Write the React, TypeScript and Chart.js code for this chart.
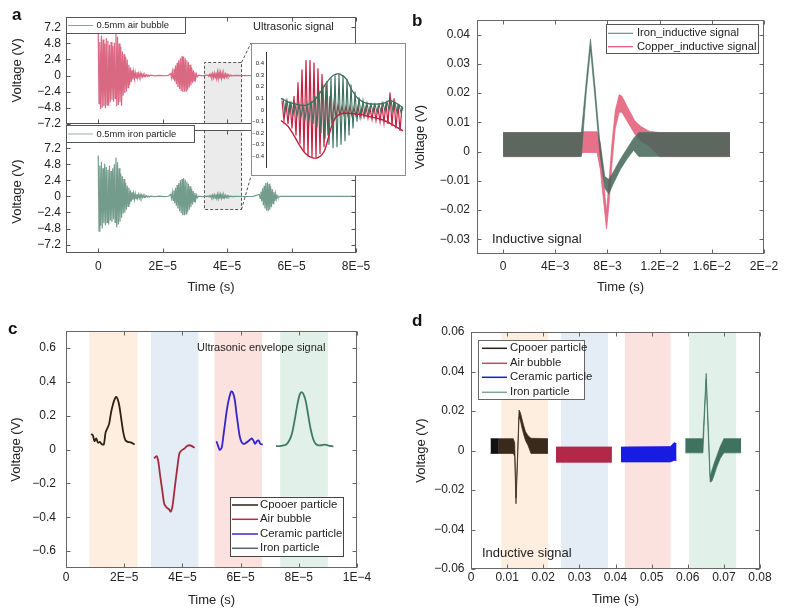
import React, { useEffect, useRef } from 'react';
import { Chart, registerables } from 'chart.js';

Chart.register(...registerables);

const FONT = '"Liberation Sans", Arial, Helvetica, sans-serif';
Chart.defaults.font.family = FONT;
Chart.defaults.color = '#222';

// ================= DATA =================
// ---- Panel a (time in units of 1E-5 s) ----
const A_X_TICKS = [0, 2, 4, 6, 8];
const A_X_LABELS = ['0', '2E−5', '4E−5', '6E−5', '8E−5'];
const A_Y_TICKS = [-7.2, -4.8, -2.4, 0, 2.4, 4.8, 7.2];
const A_Y_LABELS = ['−7.2', '−4.8', '−2.4', '0', '2.4', '4.8', '7.2'];
const A_STEP = 0.025; // sample spacing of the oscillation peaks

const AIR_BURST1 = [6.6, -4.2, 5.0, -5.0, 6.0, -4.8, 5.4, -4.6, 4.8, -4.9, 5.6, -4.4, 5.2, -4.5, 4.6, -4.0, 5.0, -3.6, 4.4, -3.9, 4.9, -3.4, 6.4, -4.6, 5.8, -4.4, 4.8, -4.0, 4.3, -4.5, 3.6, -3.0, 3.2, -2.6, 2.8, -2.4, 2.4, -1.8, 1.6, -1.4, 1.2, -1.0, 0.8, -0.6];
const AIR_RIPPLE = [0.6, -0.5, 0.45, -0.4, 0.5, -0.35, 0.3, -0.3, 0.35, -0.25, 0.25, -0.2, 0.2, -0.18, 0.15, -0.12, 0.12, -0.1, 0.08, -0.06];
const AIR_QUIET_T = [1.62, 1.75, 1.9, 2.05, 2.18];
const AIR_QUIET_V = [0.06, -0.04, 0.03, -0.03, 0.02];
const AIR_BURST2 = [0.3, -0.3, 0.6, -0.5, 1.0, -0.9, 1.5, -1.3, 1.9, -1.7, 2.3, -2.0, 2.6, -2.3, 2.9, -2.4, 2.8, -2.4, 2.6, -2.3, 2.3, -2.1, 2.0, -1.8, 1.6, -1.5, 1.2, -1.1, 0.8, -0.8, 0.5, -0.5, 0.2, -0.2];
const AIR_GAP_T = [3.12, 3.22, 3.32];
const AIR_GAP_V = [0.05, -0.04, 0.03];
const AIR_BURST3 = [0.08, -0.08, 0.15, -0.15, 0.22, -0.22, 0.3, -0.3, 0.38, -0.36, 0.45, -0.42, 0.5, -0.46, 0.48, -0.46, 0.44, -0.42, 0.38, -0.36, 0.3, -0.28, 0.24, -0.22, 0.18, -0.16, 0.12, -0.1, 0.07, -0.06, 0.03, -0.03];
const AIR_TAIL_T = [4.25, 4.5, 5.0, 6.0, 7.0, 8.0];
const AIR_TAIL_V = [0.02, -0.01, 0.01, 0, 0, 0];

const IRON_BURST1 = [6.1, -5.2, 4.6, -4.4, 5.2, -4.8, 4.2, -4.0, 4.9, -4.3, 4.4, -3.9, 4.0, -4.2, 4.6, -3.6, 3.8, -3.8, 4.2, -3.4, 4.8, -3.9, 5.8, -4.6, 5.1, -4.2, 4.2, -3.8, 3.4, -3.2, 3.0, -2.6, 2.6, -2.4, 2.0, -2.0, 1.6, -1.5, 1.3, -1.2, 0.9, -0.8, 0.6, -0.5];
const IRON_RIPPLE = [0.5, -0.45, 0.4, -0.35, 0.35, -0.3, 0.3, -0.25, 0.28, -0.22, 0.22, -0.18, 0.18, -0.15, 0.12, -0.1, 0.1, -0.08, 0.06, -0.05];
const IRON_QUIET_T = [1.62, 1.75, 1.9, 2.05, 2.18];
const IRON_QUIET_V = [0.05, -0.03, 0.03, -0.02, 0.02];
const IRON_BURST2 = [0.3, -0.3, 0.6, -0.6, 0.9, -1.0, 1.3, -1.4, 1.7, -1.8, 2.0, -2.2, 2.4, -2.5, 2.6, -2.8, 2.7, -2.8, 2.5, -2.6, 2.2, -2.3, 1.9, -2.0, 1.5, -1.6, 1.1, -1.2, 0.8, -0.8, 0.5, -0.5, 0.2, -0.2];
const IRON_GAP_T = [3.12, 3.22, 3.32];
const IRON_GAP_V = [0.04, -0.03, 0.02];
const IRON_BURST3 = [0.05, -0.05, 0.1, -0.1, 0.15, -0.15, 0.2, -0.2, 0.26, -0.25, 0.31, -0.3, 0.34, -0.33, 0.33, -0.32, 0.3, -0.29, 0.26, -0.25, 0.21, -0.2, 0.16, -0.15, 0.12, -0.11, 0.08, -0.07, 0.05, -0.04, 0.02, -0.02];
const IRON_MID_T = [4.25, 4.5, 4.8];
const IRON_MID_V = [0.02, -0.01, 0.01];
const IRON_BURST4 = [0.3, -0.3, 0.7, -0.7, 1.2, -1.3, 1.6, -1.8, 2.0, -2.1, 2.1, -2.2, 1.9, -2.0, 1.5, -1.6, 1.1, -1.1, 0.7, -0.7, 0.4, -0.4, 0.15, -0.15];
const IRON_TAIL_T = [5.65, 6.2, 7.0, 8.0];
const IRON_TAIL_V = [0.01, 0, 0, 0];

// zoomed window (data units of panel a)
const ZOOM_X = [3.27, 4.42];
const ZOOM_Y_TOP = 2.0;
const ZOOM_Y_BOTTOM = -1.86;

// ---- Inset (arbitrary sample axis) ----
const INSET_Y_TICKS = [-0.4, -0.3, -0.2, -0.1, 0, 0.1, 0.2, 0.3, 0.4];
const INSET_Y_LABELS = ['−0.4', '−0.3', '−0.2', '−0.1', '0', '0.1', '0.2', '0.3', '0.4'];
const INSET_STEP = 2;
const INSET_RED = [0.08, -0.09, 0.06, -0.12, 0.07, -0.16, 0.12, -0.22, 0.24, -0.29, 0.35, -0.36, 0.43, -0.40, 0.43, -0.41, 0.41, -0.41, 0.36, -0.38, 0.31, -0.32, 0.22, -0.22, 0.12, -0.12, 0.06, -0.06, 0.04, -0.04, 0.03, -0.04, 0.03, -0.05, 0.03, -0.05, 0.02, -0.05, 0.03, -0.06, 0.02, -0.06, 0.03, -0.07, 0.02, -0.08, 0.03, -0.09, 0.02, -0.1, 0.04, -0.11, 0.06, -0.12, 0.15, -0.14, 0.1, -0.16, 0.05, -0.18, 0.03];
const INSET_GREEN = [0.1, -0.02, 0.08, -0.03, 0.06, -0.04, 0.05, -0.05, 0.05, -0.06, 0.04, -0.08, 0.05, -0.1, 0.08, -0.12, 0.12, -0.15, 0.17, -0.2, 0.22, -0.25, 0.25, -0.3, 0.28, -0.33, 0.3, -0.32, 0.31, -0.3, 0.3, -0.27, 0.27, -0.22, 0.22, -0.16, 0.16, -0.1, 0.11, -0.06, 0.08, -0.04, 0.06, -0.03, 0.05, -0.02, 0.05, -0.02, 0.05, -0.02, 0.06, -0.01, 0.07, 0.0, 0.08, -0.01, 0.06, -0.02, 0.04, -0.02, 0.02];
const INSET_RED_ENV_X = [15, 22, 28, 34, 40, 46, 52, 58, 62, 66, 70, 76, 85, 95, 105, 115, 125, 137];
const INSET_RED_ENV_Y = [-0.09, -0.14, -0.22, -0.31, -0.38, -0.41, -0.41, -0.36, -0.25, -0.13, -0.06, -0.03, -0.03, -0.04, -0.06, -0.08, -0.12, -0.18];
const INSET_GREEN_ENV_X = [15, 22, 30, 40, 48, 55, 60, 66, 70, 74, 80, 86, 92, 100, 110, 118, 124, 130, 137];
const INSET_GREEN_ENV_Y = [0.1, 0.07, 0.05, 0.04, 0.08, 0.16, 0.23, 0.29, 0.31, 0.31, 0.27, 0.17, 0.1, 0.06, 0.05, 0.06, 0.08, 0.06, 0.02];

// ---- Panel b (time in units of 1E-3 s) ----
const B_X_TICKS = [0, 4, 8, 12, 16, 20];
const B_X_LABELS = ['0', '4E−3', '8E−3', '1.2E−2', '1.6E−2', '2E−2'];
const B_Y_TICKS = [-0.03, -0.02, -0.01, 0, 0.01, 0.02, 0.03, 0.04];
const B_Y_LABELS = ['−0.03', '−0.02', '−0.01', '0', '0.01', '0.02', '0.03', '0.04'];
const B_IRON_T = [0, 6.0, 6.35, 6.7, 7.05, 7.4, 7.8, 8.1, 8.5, 9.0, 9.5, 10.0, 10.4, 17.4];
const B_IRON_UP = [0.0065, 0.0065, 0.023, 0.0385, 0.022, 0.004, -0.0085, -0.0095, -0.0065, -0.0025, 0.001, 0.0045, 0.0065, 0.0065];
const B_IRON_LO = [-0.0017, -0.0017, 0.019, 0.035, 0.018, 0.0, -0.0125, -0.0145, -0.0105, -0.006, -0.0025, 0.0005, -0.0017, -0.0017];
const B_COPPER_T = [0, 5.9, 6.1, 7.2, 7.45, 7.7, 7.93, 8.1, 8.35, 8.6, 8.9, 9.1, 9.5, 10.1, 10.6, 11.2, 12.0, 17.4];
const B_COPPER_UP = [0.0065, 0.0065, 0.0068, 0.0068, 0.003, -0.010, -0.0205, -0.011, 0.003, 0.014, 0.0195, 0.019, 0.0155, 0.0105, 0.0085, 0.007, 0.0065, 0.0065];
const B_COPPER_LO = [-0.0017, -0.0017, -0.0003, -0.0003, -0.006, -0.017, -0.0265, -0.019, -0.004, 0.008, 0.0135, 0.0135, 0.0105, 0.006, 0.0035, 0.002, -0.0017, -0.0017];

// ---- Panel c (time in units of 1E-5 s) ----
const C_X_TICKS = [0, 2, 4, 6, 8, 10];
const C_X_LABELS = ['0', '2E−5', '4E−5', '6E−5', '8E−5', '1E−4'];
const C_Y_TICKS = [-0.6, -0.4, -0.2, 0, 0.2, 0.4, 0.6];
const C_Y_LABELS = ['−0.6', '−0.4', '−0.2', '0', '0.2', '0.4', '0.6'];
const C_BANDS = [[0.8, 2.46], [2.92, 4.55], [5.1, 6.74], [7.36, 9.0]];
const C_COPPER_T = [0.86, 0.92, 0.98, 1.04, 1.10, 1.16, 1.24, 1.30, 1.36, 1.42, 1.48, 1.55, 1.62, 1.68, 1.72, 1.77, 1.83, 1.90, 1.97, 2.04, 2.12, 2.22, 2.36];
const C_COPPER_V = [0.09, 0.085, 0.05, 0.065, 0.04, 0.045, 0.03, 0.03, 0.1, 0.125, 0.15, 0.22, 0.27, 0.3, 0.31, 0.3, 0.26, 0.18, 0.1, 0.055, 0.045, 0.042, 0.03];
const C_AIR_T = [3.03, 3.11, 3.17, 3.23, 3.31, 3.38, 3.46, 3.54, 3.60, 3.66, 3.71, 3.78, 3.84, 3.90, 3.98, 4.06, 4.16, 4.25, 4.33, 4.42];
const C_AIR_V = [-0.053, -0.039, -0.069, -0.147, -0.245, -0.324, -0.343, -0.353, -0.367, -0.333, -0.265, -0.167, -0.088, -0.020, -0.004, 0.004, 0.020, 0.025, 0.020, 0.010];
const C_CER_T = [5.17, 5.23, 5.28, 5.35, 5.40, 5.46, 5.52, 5.58, 5.64, 5.68, 5.74, 5.80, 5.85, 5.91, 5.97, 6.03, 6.10, 6.18, 6.26, 6.33, 6.39, 6.45, 6.50, 6.56, 6.62, 6.68, 6.76];
const C_CER_V = [0.049, 0.020, -0.002, 0.010, 0.069, 0.147, 0.225, 0.284, 0.327, 0.343, 0.333, 0.294, 0.225, 0.147, 0.078, 0.045, 0.033, 0.039, 0.049, 0.059, 0.065, 0.049, 0.033, 0.049, 0.053, 0.033, 0.029];
const C_IRON_T = [7.22, 7.40, 7.57, 7.69, 7.77, 7.86, 7.95, 8.03, 8.09, 8.16, 8.24, 8.32, 8.41, 8.50, 8.58, 8.67, 8.78, 8.90, 9.02, 9.19];
const C_IRON_V = [0.020, 0.022, 0.029, 0.059, 0.098, 0.176, 0.265, 0.324, 0.339, 0.327, 0.284, 0.206, 0.118, 0.059, 0.033, 0.025, 0.025, 0.029, 0.023, 0.018];

// ---- Panel d (time in s) ----
const D_X_TICKS = [0, 0.01, 0.02, 0.03, 0.04, 0.05, 0.06, 0.07, 0.08];
const D_X_LABELS = ['0', '0.01', '0.02', '0.03', '0.04', '0.05', '0.06', '0.07', '0.08'];
const D_Y_TICKS = [-0.06, -0.04, -0.02, 0, 0.02, 0.04, 0.06];
const D_Y_LABELS = ['−0.06', '−0.04', '−0.02', '0', '0.02', '0.04', '0.06'];
const D_BANDS = [[0.0084, 0.0213], [0.0249, 0.0379], [0.0426, 0.0552], [0.0604, 0.0734]];
const D_COPPER0_T = [0.0054, 0.0076];
const D_COPPER0_UP = [0.006, 0.006];
const D_COPPER0_LO = [-0.0015, -0.0015];
const D_COPPER_T = [0.0075, 0.0117, 0.0121, 0.01245, 0.0129, 0.0133, 0.0137, 0.0141, 0.0146, 0.0151, 0.0158, 0.0166, 0.0213];
const D_COPPER_UP = [0.006, 0.006, 0.004, -0.024, -0.001, 0.0205, 0.019, 0.016, 0.0125, 0.0095, 0.0075, 0.0062, 0.006];
const D_COPPER_LO = [-0.0015, -0.0015, -0.003, -0.027, -0.005, 0.017, 0.015, 0.0115, 0.008, 0.005, 0.0025, -0.0015, -0.0015];
const D_AIR_T = [0.0235, 0.039];
const D_AIR_UP = [0.0018, 0.0018];
const D_AIR_LO = [-0.006, -0.006];
const D_CER_T = [0.0415, 0.0552, 0.0562, 0.0569];
const D_CER_UP = [0.0018, 0.002, 0.004, 0.0035];
const D_CER_LO = [-0.0058, -0.0058, -0.005, -0.005];
const D_IRON_T = [0.0593, 0.0642, 0.0647, 0.0651, 0.0656, 0.0662, 0.0667, 0.0673, 0.068, 0.069, 0.07, 0.0748];
const D_IRON_UP = [0.006, 0.006, 0.024, 0.039, 0.016, -0.013, -0.01, -0.0065, -0.003, 0.002, 0.006, 0.006];
const D_IRON_LO = [-0.0012, -0.0012, 0.02, 0.036, 0.012, -0.016, -0.0155, -0.0125, -0.0085, -0.004, -0.0012, -0.0012];

// ================= LAYOUT =================
const BOX_A_TOP = { L: 0, T: 0, W: 380, H: 136 };
const AREA_A_TOP = { l: 66, t: 17, r: 356, b: 126 };
const BOX_A_BOT = { L: 0, T: 118, W: 380, H: 182 };
const AREA_A_BOT = { l: 66, t: 125, r: 356, b: 253 };
const BOX_INSET = { L: 251, T: 43, W: 155, H: 133 };
const AREA_INSET = { l: 266, t: 52, r: 404, b: 168 };
const BOX_B = { L: 400, T: 0, W: 389, H: 300 };
const AREA_B = { l: 477, t: 20, r: 764, b: 254 };
const BOX_C = { L: 0, T: 300, W: 395, H: 309 };
const AREA_C = { l: 66, t: 331, r: 357, b: 568 };
const BOX_D = { L: 400, T: 300, W: 389, H: 309 };
const AREA_D = { l: 471, t: 332, r: 760, b: 569 };

// ================= HELPERS =================
let uid = 0;
const nid = (p: string) => p + uid++;

const seq = (start: number, step: number, vals: number[]) => vals.map((v, i) => ({ x: start + i * step, y: v }));
const pairs = (xs: number[], ys: number[]) => xs.map((x, i) => ({ x, y: ys[i] }));

const lab = (ticks: number[], labels: string[]) => (v: any) => {
  const i = ticks.findIndex((t) => Math.abs(t - v) < 1e-9);
  return i >= 0 ? labels[i] : '';
};

function buildConfig(p: any) {
  const { box, area } = p;
  const yW = area.l - box.L;
  const padT = area.t - box.T;
  const padR = box.L + box.W - area.r;
  const below = box.T + box.H - area.b;
  const xH = p.showX ? below : 0;
  const padB = p.showX ? 0 : below;
  const tickSize = p.tickSize ?? 12;
  const titleSize = p.titleSize ?? 13;
  const lh = titleSize * 1.2;
  return {
    type: 'line',
    data: { datasets: p.datasets },
    options: {
      responsive: false,
      maintainAspectRatio: false,
      animation: false,
      events: [],
      layout: { padding: { left: 0, top: padT, right: padR, bottom: padB } },
      plugins: {
        legend: { display: false },
        tooltip: { enabled: false },
        filler: { drawTime: 'beforeDatasetDraw' },
      },
      elements: { point: { radius: 0 }, line: { tension: 0 } },
      scales: {
        x: {
          type: 'linear',
          min: p.x.min,
          max: p.x.max,
          display: p.showX,
          grid: { display: false, drawTicks: false, tickLength: 0 },
          border: { display: false },
          afterBuildTicks: (s: any) => { s.ticks = p.x.ticks.map((v: number) => ({ value: v })); },
          afterFit: (s: any) => { s.height = xH; },
          ticks: {
            autoSkip: false, maxRotation: 0, minRotation: 0,
            padding: p.xPad ?? 6, font: { size: tickSize }, color: '#222',
            callback: lab(p.x.ticks, p.x.labels),
          },
          title: p.xTitle
            ? { display: true, text: p.xTitle, color: '#222', font: { size: titleSize }, padding: { top: 0, bottom: box.H - padB - lh / 2 - (p.xTitleY - box.T) } }
            : { display: false },
        },
        y: {
          type: 'linear',
          min: p.y.min,
          max: p.y.max,
          grid: { display: false, drawTicks: false, tickLength: 0 },
          border: { display: false },
          afterBuildTicks: (s: any) => { s.ticks = p.y.ticks.map((v: number) => ({ value: v })); },
          afterFit: (s: any) => { s.width = yW; },
          ticks: {
            autoSkip: false,
            padding: p.yPad ?? 6, font: { size: p.yTickSize ?? tickSize }, color: '#222',
            callback: lab(p.y.ticks, p.y.labels),
          },
          title: p.yTitle
            ? { display: true, text: p.yTitle, color: '#222', font: { size: titleSize }, padding: { top: p.yTitleX - box.L - lh / 2, bottom: 0 } }
            : { display: false },
        },
      },
    },
    plugins: p.plugins,
  };
}

function framePlugin(color = '#555', tl = 4) {
  return {
    id: nid('frame'),
    afterDatasetsDraw(chart: any) {
      const { ctx, chartArea: a, scales } = chart;
      const L = Math.round(a.left) + 0.5, R = Math.round(a.right) - 0.5;
      const T = Math.round(a.top) + 0.5, B = Math.round(a.bottom) - 0.5;
      ctx.save();
      ctx.setLineDash([]);
      ctx.strokeStyle = color;
      ctx.lineWidth = 1;
      ctx.strokeRect(L, T, R - L, B - T);
      ctx.beginPath();
      scales.x.ticks.forEach((t: any) => {
        const px = Math.round(scales.x.getPixelForValue(t.value)) + 0.5;
        ctx.moveTo(px, B); ctx.lineTo(px, B - tl);
        ctx.moveTo(px, T); ctx.lineTo(px, T + tl);
      });
      scales.y.ticks.forEach((t: any) => {
        const py = Math.round(scales.y.getPixelForValue(t.value)) + 0.5;
        ctx.moveTo(L, py); ctx.lineTo(L + tl, py);
        ctx.moveTo(R, py); ctx.lineTo(R - tl, py);
      });
      ctx.stroke();
      ctx.restore();
    },
  };
}

function bandsPlugin(bands: number[][], colors: string[]) {
  return {
    id: nid('bands'),
    beforeDatasetsDraw(chart: any) {
      const { ctx, chartArea: a, scales: { x } } = chart;
      ctx.save();
      bands.forEach(([s, e], i) => {
        const x0 = x.getPixelForValue(s), x1 = x.getPixelForValue(e);
        ctx.fillStyle = colors[i];
        ctx.fillRect(x0, a.top, x1 - x0, a.bottom - a.top);
      });
      ctx.restore();
    },
  };
}

function legendPlugin(box: any, lg: any) {
  return {
    id: nid('lg'),
    afterDatasetsDraw(chart: any) {
      const ctx = chart.ctx;
      const ox = box.L, oy = box.T;
      ctx.save();
      ctx.setLineDash([]);
      ctx.fillStyle = '#fff';
      ctx.fillRect(lg.x - ox, lg.y - oy, lg.w, lg.h);
      ctx.strokeStyle = lg.border || '#444';
      ctx.lineWidth = 1;
      ctx.strokeRect(Math.round(lg.x - ox) + 0.5, Math.round(lg.y - oy) + 0.5, lg.w, lg.h);
      ctx.font = `${lg.font}px ${FONT}`;
      ctx.textBaseline = 'middle';
      ctx.textAlign = 'left';
      lg.rows.forEach((r: any) => {
        ctx.strokeStyle = r.color;
        ctx.lineWidth = r.lw || 1.5;
        ctx.beginPath();
        ctx.moveTo(lg.lineX[0] - ox, r.y - oy);
        ctx.lineTo(lg.lineX[1] - ox, r.y - oy);
        ctx.stroke();
        ctx.fillStyle = '#222';
        ctx.fillText(r.label, lg.textX - ox, r.y - oy);
      });
      ctx.restore();
    },
  };
}

function textPlugin(box: any, items: any[]) {
  return {
    id: nid('txt'),
    afterDatasetsDraw(chart: any) {
      const ctx = chart.ctx;
      ctx.save();
      items.forEach((t) => {
        ctx.font = `${t.size}px ${FONT}`;
        ctx.fillStyle = t.color || '#222';
        ctx.textAlign = 'left';
        ctx.textBaseline = 'middle';
        ctx.fillText(t.text, t.x - box.L, t.y - box.T);
      });
      ctx.restore();
    },
  };
}

function zoomRectPlugin(part: 'top' | 'bottom', box: any) {
  return {
    id: nid('zr'),
    beforeDatasetsDraw(chart: any) {
      const { ctx, chartArea: a, scales: { x, y } } = chart;
      const x0 = Math.round(x.getPixelForValue(ZOOM_X[0])) + 0.5;
      const x1 = Math.round(x.getPixelForValue(ZOOM_X[1])) + 0.5;
      const yy = Math.round(y.getPixelForValue(part === 'top' ? ZOOM_Y_TOP : ZOOM_Y_BOTTOM)) + 0.5;
      const y0 = part === 'top' ? yy : a.top;
      const y1 = part === 'top' ? a.bottom : yy;
      ctx.save();
      ctx.fillStyle = '#ebebeb';
      ctx.fillRect(x0, y0, x1 - x0, y1 - y0);
      ctx.setLineDash([3, 2]);
      ctx.strokeStyle = '#555';
      ctx.lineWidth = 1;
      ctx.beginPath();
      if (part === 'top') {
        ctx.moveTo(x0, y1); ctx.lineTo(x0, y0); ctx.lineTo(x1, y0); ctx.lineTo(x1, y1);
      } else {
        ctx.moveTo(x0, y0); ctx.lineTo(x0, y1); ctx.lineTo(x1, y1); ctx.lineTo(x1, y0);
      }
      ctx.stroke();
      ctx.beginPath();
      ctx.moveTo(x1, yy);
      const ty = part === 'top' ? BOX_INSET.T : BOX_INSET.T + BOX_INSET.H;
      ctx.lineTo(BOX_INSET.L - box.L, ty - box.T);
      ctx.stroke();
      ctx.restore();
    },
  };
}

function insetPlugin() {
  return {
    id: nid('inset'),
    beforeDraw(chart: any) {
      const { ctx, width, height } = chart;
      ctx.save();
      ctx.fillStyle = '#fff';
      ctx.fillRect(0, 0, width, height);
      ctx.restore();
    },
    afterDraw(chart: any) {
      const { ctx, width, height, chartArea: a } = chart;
      ctx.save();
      ctx.strokeStyle = '#8c8c8c';
      ctx.lineWidth = 1;
      ctx.strokeRect(0.5, 0.5, width - 1, height - 1);
      ctx.strokeStyle = '#333';
      ctx.beginPath();
      const x = Math.round(a.left) + 0.5;
      ctx.moveTo(x, a.top);
      ctx.lineTo(x, a.bottom);
      ctx.stroke();
      ctx.restore();
    },
  };
}

function band(xs: number[], up: number[], lo: number[], line: string, fill: string, bw = 0.7) {
  return [
    { data: pairs(xs, up), borderColor: line, borderWidth: bw, fill: false, pointRadius: 0 },
    { data: pairs(xs, lo), borderColor: line, borderWidth: bw, fill: '-1', backgroundColor: fill, pointRadius: 0 },
  ];
}

// ================= CHART BUILDERS =================
function cfgATop() {
  const data = [
    ...seq(0, A_STEP, AIR_BURST1),
    ...seq(1.1, A_STEP, AIR_RIPPLE),
    ...pairs(AIR_QUIET_T, AIR_QUIET_V),
    ...seq(2.25, A_STEP, AIR_BURST2),
    ...pairs(AIR_GAP_T, AIR_GAP_V),
    ...seq(3.4, A_STEP, AIR_BURST3),
    ...pairs(AIR_TAIL_T, AIR_TAIL_V),
  ];
  return buildConfig({
    box: BOX_A_TOP, area: AREA_A_TOP, showX: false,
    x: { min: -1, max: 8, ticks: A_X_TICKS, labels: A_X_LABELS },
    y: { min: -7.21, max: 8.75, ticks: A_Y_TICKS, labels: A_Y_LABELS },
    yTitle: 'Voltage (V)', yTitleX: 17, yPad: 5,
    datasets: [{ data, borderColor: 'rgba(210,78,108,0.85)', borderWidth: 1.2, fill: false }],
    plugins: [
      zoomRectPlugin('top', BOX_A_TOP),
      framePlugin('#555'),
      legendPlugin(BOX_A_TOP, { x: 66, y: 17, w: 119, h: 16, rows: [{ label: '0.5mm air bubble', color: '#e07a92', y: 25.5, lw: 1 }], lineX: [68, 93], textX: 96.5, font: 9.4, border: '#555' }),
      textPlugin(BOX_A_TOP, [{ text: 'Ultrasonic signal', x: 253, y: 27, size: 11 }]),
    ],
  });
}

function cfgABottom() {
  const data = [
    ...seq(0, A_STEP, IRON_BURST1),
    ...seq(1.1, A_STEP, IRON_RIPPLE),
    ...pairs(IRON_QUIET_T, IRON_QUIET_V),
    ...seq(2.25, A_STEP, IRON_BURST2),
    ...pairs(IRON_GAP_T, IRON_GAP_V),
    ...seq(3.4, A_STEP, IRON_BURST3),
    ...pairs(IRON_MID_T, IRON_MID_V),
    ...seq(5.0, A_STEP, IRON_BURST4),
    ...pairs(IRON_TAIL_T, IRON_TAIL_V),
  ];
  return buildConfig({
    box: BOX_A_BOT, area: AREA_A_BOT, showX: true,
    x: { min: -1, max: 8, ticks: A_X_TICKS, labels: A_X_LABELS },
    y: { min: -8.46, max: 9.9, ticks: A_Y_TICKS, labels: A_Y_LABELS },
    xTitle: 'Time (s)', xTitleY: 287, xPad: 6.8,
    yTitle: 'Voltage (V)', yTitleX: 17, yPad: 5,
    datasets: [{ data, borderColor: 'rgba(96,142,124,0.88)', borderWidth: 1.2, fill: false }],
    plugins: [
      zoomRectPlugin('bottom', BOX_A_BOT),
      framePlugin('#555'),
      legendPlugin(BOX_A_BOT, { x: 66, y: 125, w: 128, h: 17, rows: [{ label: '0.5mm iron particle', color: '#8fb3a3', y: 134, lw: 1 }], lineX: [68, 93], textX: 96.5, font: 9.4, border: '#555' }),
    ],
  });
}

function cfgInset() {
  return buildConfig({
    box: BOX_INSET, area: AREA_INSET, showX: false,
    x: { min: 0, max: 138, ticks: [], labels: [] },
    y: { min: -0.5, max: 0.5, ticks: INSET_Y_TICKS, labels: INSET_Y_LABELS },
    yPad: 2, yTickSize: 6,
    datasets: [
      { data: pairs(INSET_GREEN_ENV_X, INSET_GREEN_ENV_Y), borderColor: 'rgb(60,110,92)', borderWidth: 1.3, tension: 0.3, fill: false },
      { data: pairs(INSET_RED_ENV_X, INSET_RED_ENV_Y), borderColor: 'rgb(196,30,62)', borderWidth: 1.4, tension: 0.3, fill: false },
      { data: seq(17, INSET_STEP, INSET_GREEN), borderColor: 'rgb(62,112,94)', borderWidth: 1.1, fill: false },
      { data: seq(16, INSET_STEP, INSET_RED), borderColor: 'rgb(200,32,66)', borderWidth: 1.2, fill: false },
    ],
    plugins: [insetPlugin()],
  });
}

function cfgB() {
  return buildConfig({
    box: BOX_B, area: AREA_B, showX: true,
    x: { min: -2, max: 20, ticks: B_X_TICKS, labels: B_X_LABELS },
    y: { min: -0.035, max: 0.045, ticks: B_Y_TICKS, labels: B_Y_LABELS },
    xTitle: 'Time (s)', xTitleY: 287, xPad: 5.8,
    yTitle: 'Voltage (V)', yTitleX: 420, yPad: 7,
    datasets: [
      ...band(B_IRON_T, B_IRON_UP, B_IRON_LO, 'rgba(70,110,94,0.85)', 'rgba(70,102,90,0.86)'),
      ...band(B_COPPER_T, B_COPPER_UP, B_COPPER_LO, 'rgba(226,90,120,0.9)', 'rgba(228,88,118,0.85)'),
    ],
    plugins: [
      framePlugin('#666'),
      legendPlugin(BOX_B, {
        x: 606, y: 24, w: 152, h: 29,
        rows: [
          { label: 'Iron_inductive signal', color: '#5f9580', y: 33.3, lw: 1.2 },
          { label: 'Copper_inductive signal', color: '#e05070', y: 46.7, lw: 1.2 },
        ],
        lineX: [608, 633], textX: 637, font: 11.2, border: '#555',
      }),
      textPlugin(BOX_B, [{ text: 'Inductive signal', x: 492, y: 239, size: 13 }]),
    ],
  });
}

function cfgC() {
  return buildConfig({
    box: BOX_C, area: AREA_C, showX: true,
    x: { min: 0, max: 10, ticks: C_X_TICKS, labels: C_X_LABELS },
    y: { min: -0.7, max: 0.7, ticks: C_Y_TICKS, labels: C_Y_LABELS },
    xTitle: 'Time (s)', xTitleY: 600, xPad: 2.8,
    yTitle: 'Voltage (V)', yTitleX: 16, yPad: 10,
    datasets: [
      { data: pairs(C_COPPER_T, C_COPPER_V), borderColor: 'rgb(46,32,22)', borderWidth: 1.8, tension: 0.3, fill: false },
      { data: pairs(C_AIR_T, C_AIR_V), borderColor: 'rgb(166,42,62)', borderWidth: 1.8, tension: 0.3, fill: false },
      { data: pairs(C_CER_T, C_CER_V), borderColor: 'rgb(52,36,206)', borderWidth: 1.8, tension: 0.3, fill: false },
      { data: pairs(C_IRON_T, C_IRON_V), borderColor: 'rgb(64,122,102)', borderWidth: 1.8, tension: 0.3, fill: false },
    ],
    plugins: [
      bandsPlugin(C_BANDS, ['#fdeee0', '#e4ecf5', '#fbe2df', '#e1f1ea']),
      framePlugin('#666'),
      legendPlugin(BOX_C, {
        x: 230, y: 497, w: 113, h: 59,
        rows: [
          { label: 'Cpooer particle', color: '#2b1f17', y: 505 },
          { label: 'Air bubble', color: '#c0283e', y: 519.3 },
          { label: 'Ceramic particle', color: '#3a2bd0', y: 534 },
          { label: 'Iron particle', color: '#55685f', y: 548.3 },
        ],
        lineX: [232, 258], textX: 260, font: 11.4, border: '#444',
      }),
      textPlugin(BOX_C, [{ text: 'Ultrasonic envelope signal', x: 197, y: 348, size: 11 }]),
    ],
  });
}

function cfgD() {
  return buildConfig({
    box: BOX_D, area: AREA_D, showX: true,
    x: { min: 0, max: 0.08, ticks: D_X_TICKS, labels: D_X_LABELS },
    y: { min: -0.06, max: 0.06, ticks: D_Y_TICKS, labels: D_Y_LABELS },
    xTitle: 'Time (s)', xTitleY: 599, xPad: 1.8,
    yTitle: 'Voltage (V)', yTitleX: 421, yPad: 6.5,
    datasets: [
      ...band(D_COPPER0_T, D_COPPER0_UP, D_COPPER0_LO, '#111', '#111'),
      ...band(D_COPPER_T, D_COPPER_UP, D_COPPER_LO, 'rgb(58,42,30)', 'rgb(58,42,30)'),
      ...band(D_AIR_T, D_AIR_UP, D_AIR_LO, 'rgb(178,40,72)', 'rgb(178,40,72)'),
      ...band(D_CER_T, D_CER_UP, D_CER_LO, 'rgb(24,28,226)', 'rgb(24,28,226)'),
      ...band(D_IRON_T, D_IRON_UP, D_IRON_LO, 'rgb(64,114,96)', 'rgb(64,114,96)'),
    ],
    plugins: [
      bandsPlugin(D_BANDS, ['#fdeee0', '#e4ecf5', '#fbe2df', '#e1f1ea']),
      framePlugin('#666'),
      legendPlugin(BOX_D, {
        x: 478, y: 340, w: 106, h: 59,
        rows: [
          { label: 'Cpooer particle', color: '#2a211b', y: 348.3 },
          { label: 'Air bubble', color: '#c04a60', y: 363.3 },
          { label: 'Ceramic particle', color: '#1a1ad0', y: 377.3 },
          { label: 'Iron particle', color: '#7da595', y: 392.3 },
        ],
        lineX: [482, 507], textX: 510, font: 11.4, border: '#666',
      }),
      textPlugin(BOX_D, [{ text: 'Inductive signal', x: 482, y: 553, size: 13 }]),
    ],
  });
}

// ================= COMPONENTS =================
function ChartCanvas({ box, build }: { box: any; build: () => any }) {
  const ref = useRef<HTMLCanvasElement>(null);
  useEffect(() => {
    const chart = new Chart(ref.current as HTMLCanvasElement, build() as any);
    return () => chart.destroy();
  }, []);
  return (
    <canvas
      ref={ref}
      width={box.W}
      height={box.H}
      style={{ position: 'absolute', left: box.L, top: box.T, width: box.W, height: box.H }}
    />
  );
}

const PANEL_LABELS = [
  { t: 'a', x: 12, y: 6 },
  { t: 'b', x: 412, y: 12 },
  { t: 'c', x: 8, y: 320 },
  { t: 'd', x: 412, y: 312 },
];

export default function App() {
  return (
    <div
      style={{
        position: 'absolute', left: 0, top: 0, width: 789, height: 609,
        background: '#fff', overflow: 'hidden', fontFamily: FONT,
      }}
    >
      <ChartCanvas box={BOX_A_TOP} build={cfgATop} />
      <ChartCanvas box={BOX_A_BOT} build={cfgABottom} />
      <ChartCanvas box={BOX_B} build={cfgB} />
      <ChartCanvas box={BOX_C} build={cfgC} />
      <ChartCanvas box={BOX_D} build={cfgD} />
      <ChartCanvas box={BOX_INSET} build={cfgInset} />
      {PANEL_LABELS.map((p) => (
        <div
          key={p.t}
          style={{
            position: 'absolute', left: p.x, top: p.y, fontSize: 17, lineHeight: '17px',
            fontWeight: 'bold', color: '#111', fontFamily: FONT,
          }}
        >
          {p.t}
        </div>
      ))}
    </div>
  );
}
